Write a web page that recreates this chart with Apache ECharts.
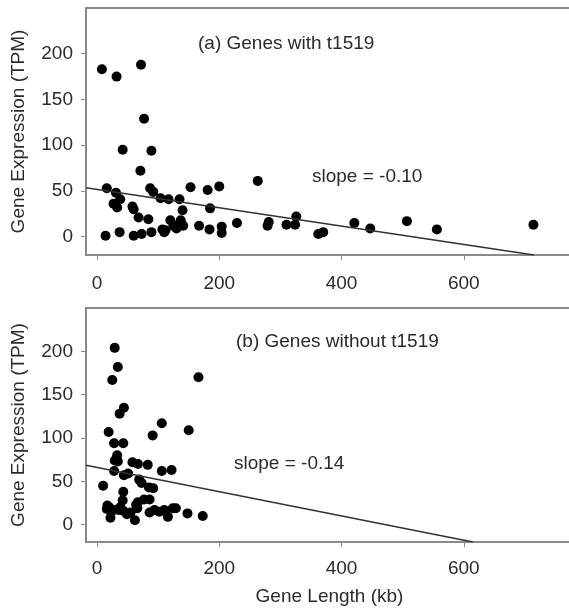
<!DOCTYPE html>
<html>
<head>
<meta charset="utf-8">
<script src="https://cdn.jsdelivr.net/npm/echarts@6.0.0/dist/echarts.min.js"></script>
<style>
  html, body { margin: 0; padding: 0; background: #fff; }
  #main { width: 569px; height: 611px; }
</style>
</head>
<body>
<div id="main"></div>
<script>
// (a) genes with t1519 : [length kb, TPM]
var genesWith = [
  [8,183],[32,175],[72,188],[77,129],[42,95],[89,94],[71,72],[16,53],[31,48],[38,41],
  [27,36],[33,32],[58,33],[60,30],[68,21],[84,19],[87,53],[92,49],[104,42],[117,41],
  [135,41],[140,29],[153,54],[181,51],[185,31],[200,55],[14,1],[37,5],[60,1],[73,3],
  [89,5],[107,8],[110,5],[120,18],[130,9],[137,18],[141,12],[167,12],[184,8],[204,11],
  [204,4],[229,15],[263,61],[279,12],[281,16],[310,13],[324,13],[326,22],[362,3],[370,5],
  [421,15],[447,9],[507,17],[556,8],[714,13],[125,12],[112,7]
];
// (b) genes without t1519
var genesWithout = [
  [29,204],[34,182],[25,167],[166,170],[44,135],[37,128],[19,107],[106,117],[91,103],[150,109],
  [28,94],[43,94],[33,80],[29,74],[34,73],[58,72],[67,70],[83,69],[106,62],[122,63],
  [28,62],[44,57],[51,59],[69,52],[73,48],[85,43],[92,42],[10,45],[43,38],[42,28],
  [17,22],[16,18],[28,17],[36,17],[43,16],[49,12],[22,8],[62,5],[64,23],[67,26],
  [77,29],[86,29],[66,19],[86,14],[94,17],[102,15],[110,17],[116,9],[124,19],[129,19],
  [148,13],[173,10],[20,20],[38,20],[55,14]
];
// regression lines, end points
var fitWith = [[-18, 53.4], [715, -20]];
var fitWithout = [[-18, 68.6], [615, -20]];

var xTicks = [0, 200, 400, 600];
var yTicks = [0, 50, 100, 150, 200];
var panelTitles = ['(a) Genes with t1519', '(b) Genes without t1519'];
var slopeTexts = ['slope = -0.10', 'slope = -0.14'];

var font = "'Liberation Sans', Arial, sans-serif";
var textColor = '#2b2b2b';
var frameColor = '#8a8a8a';
var fs = 19;

function makeX(i, withName, margin) {
  return {
    type: 'value', gridIndex: i, min: -18, max: 800,
    name: withName ? 'Gene Length (kb)' : '',
    nameLocation: 'middle', nameGap: 45,
    nameTextStyle: { fontSize: fs, color: textColor, fontFamily: font, padding: [0, 13, 0, 0] },
    axisLine: { show: true, onZero: false, lineStyle: { color: frameColor, width: 2 } },
    axisTick: { show: true, customValues: xTicks, length: 5, lineStyle: { color: frameColor } },
    axisLabel: { customValues: xTicks, fontSize: fs, color: textColor, fontFamily: font, margin: margin },
    splitLine: { show: false }
  };
}
function makeY(i) {
  return {
    type: 'value', gridIndex: i, min: -20, max: 250,
    name: 'Gene Expression (TPM)',
    nameLocation: 'middle', nameGap: 58,
    nameTextStyle: { fontSize: fs, color: textColor, fontFamily: font },
    axisLine: { show: true, onZero: false, lineStyle: { color: frameColor, width: 2 } },
    axisTick: { show: true, customValues: yTicks, length: 5, lineStyle: { color: frameColor } },
    axisLabel: { customValues: yTicks, fontSize: fs, color: textColor, fontFamily: font, margin: 13 },
    splitLine: { show: false }
  };
}
function txt(s, left, top) {
  return { text: s, left: left, top: top,
    textStyle: { fontSize: fs, fontWeight: 'normal', color: textColor, fontFamily: font } };
}

var myChart = echarts.init(document.getElementById('main'), null, { renderer: 'canvas' });

var option = {
  animation: false,
  backgroundColor: '#fff',
  title: [
    txt(panelTitles[0], 193, 29),
    txt(slopeTexts[0], 307, 162),
    txt(panelTitles[1], 231, 327),
    txt(slopeTexts[1], 229, 449)
  ],
  grid: [
    { left: 86, top: 8, width: 500, height: 247, show: true, borderColor: frameColor, borderWidth: 2,
      outerBoundsMode: 'none' },
    { left: 86, top: 308, width: 500, height: 234, show: true, borderColor: frameColor, borderWidth: 2,
      outerBoundsMode: 'none' }
  ],
  xAxis: [makeX(0, false, 19), makeX(1, true, 17)],
  yAxis: [makeY(0), makeY(1)],
  series: [
    { type: 'scatter', xAxisIndex: 0, yAxisIndex: 0, data: genesWith,
      symbolSize: 10, itemStyle: { color: '#000', opacity: 1 } },
    { type: 'line', xAxisIndex: 0, yAxisIndex: 0, data: fitWith, showSymbol: false,
      clip: true, lineStyle: { color: '#333', width: 1.5 } },
    { type: 'scatter', xAxisIndex: 1, yAxisIndex: 1, data: genesWithout,
      symbolSize: 10, itemStyle: { color: '#000', opacity: 1 } },
    { type: 'line', xAxisIndex: 1, yAxisIndex: 1, data: fitWithout, showSymbol: false,
      clip: true, lineStyle: { color: '#333', width: 1.5 } }
  ]
};

myChart.setOption(option);
</script>
</body>
</html>
